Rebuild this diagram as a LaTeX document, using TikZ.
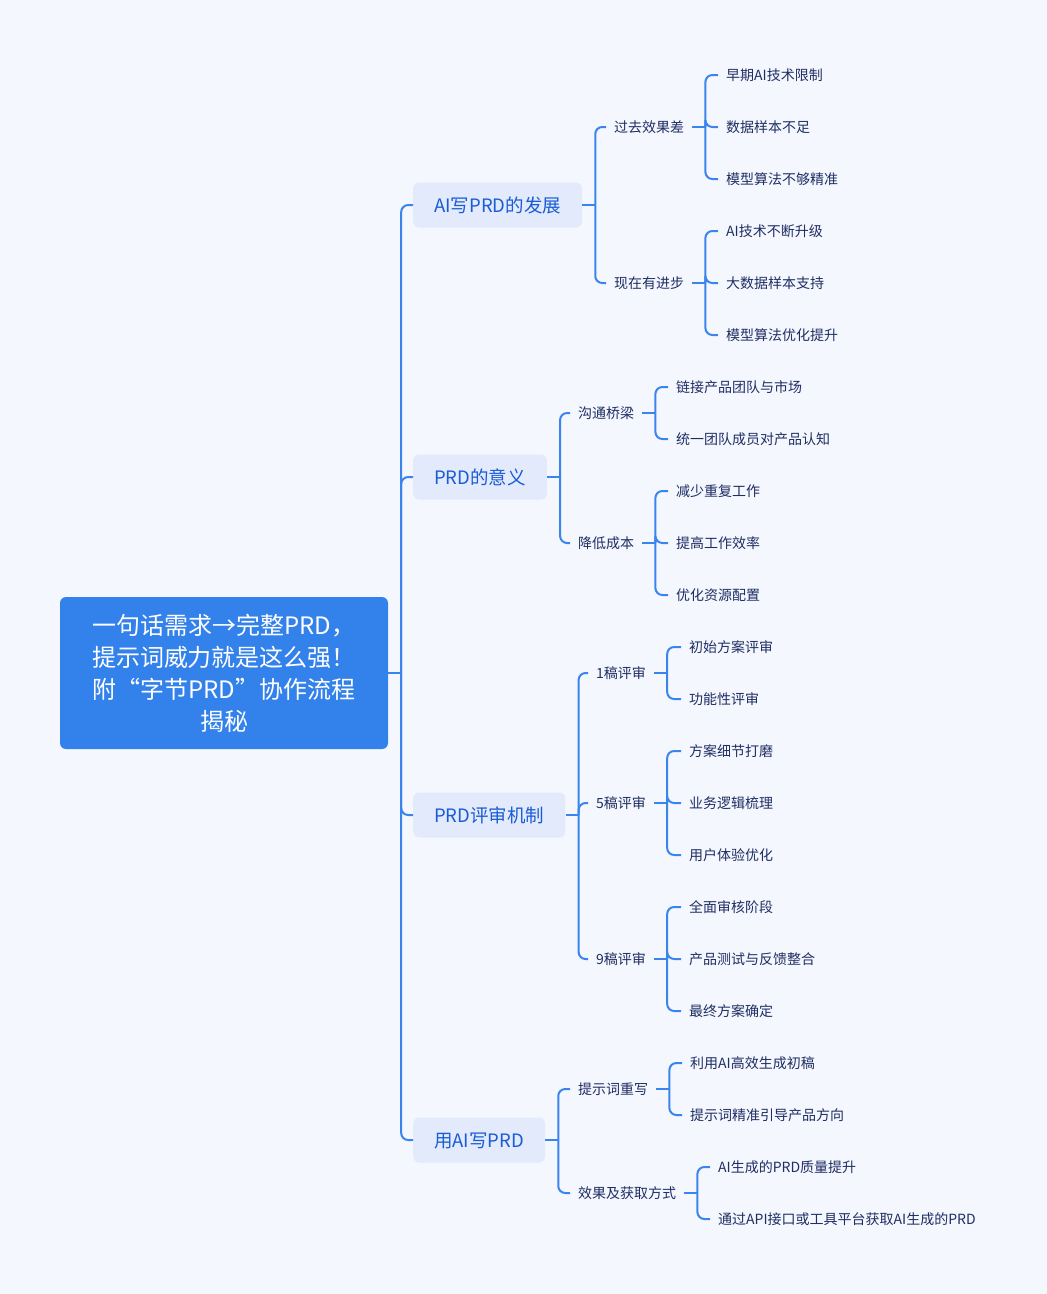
\documentclass[tikz,border=0pt]{standalone}
\usepackage{fontspec}
\setmainfont{Noto Sans CJK SC}
\usetikzlibrary{calc}
\definecolor{bg}{HTML}{F5F7FE}
\definecolor{rootc}{HTML}{3381EB}
\definecolor{boxc}{HTML}{E2EAFC}
\definecolor{linec}{HTML}{3A84EE}
\definecolor{btext}{HTML}{1A5CD6}
\definecolor{ltext}{HTML}{1F2E63}
\newcommand{\myfork}[2]{%
  \draw[conn] (#1.east) -- ++(13,0) coordinate (#1j);
  \foreach \c in {#2} {\draw[conn, rounded corners=7pt] (#1j) |- (\c.west);}
}
\begin{document}
\begin{tikzpicture}[x=1pt,y=-1pt,
  rootbox/.style={fill=rootc, rounded corners=6pt, text=white, minimum width=328pt, minimum height=152pt, align=center, font=\fontsize{24pt}{32pt}\selectfont, inner sep=0pt},
  branchbox/.style={fill=boxc, rounded corners=6pt, text=btext, minimum height=45pt, inner xsep=21pt, inner ysep=0pt, anchor=west, font=\fontsize{18.5pt}{22pt}\selectfont, text height=14pt, text depth=0pt},
  sublabel/.style={text=ltext, inner xsep=8pt, inner ysep=2pt, anchor=west, font=\fontsize{14pt}{17pt}\selectfont, text height=10.6pt, text depth=0pt},
  leaf/.style={sublabel},
  conn/.style={draw=linec, line width=2pt},
]
\fill[bg] (0,0) rectangle (1047,1294);
\useasboundingbox (0,0) rectangle (1047,1294);

\node[rootbox] (root) at (224,673) {一句话需求→完整PRD，\\提示词威力就是这么强！\\附“字节PRD”协作流程\\揭秘};

\node[branchbox] (b1) at (413,205) {AI写PRD的发展};
\node[branchbox] (b2) at (413,477) {PRD的意义};
\node[branchbox] (b3) at (413,815) {PRD评审机制};
\node[branchbox] (b4) at (413,1140) {用AI写PRD};

\node[sublabel] (s11) at (606,127) {过去效果差};
\node[sublabel] (s12) at (606,283) {现在有进步};
\node[sublabel] (s21) at (570,413) {沟通桥梁};
\node[sublabel] (s22) at (570,543) {降低成本};
\node[sublabel] (s31) at (588,673) {1稿评审};
\node[sublabel] (s32) at (588,803) {5稿评审};
\node[sublabel] (s33) at (588,959) {9稿评审};
\node[sublabel] (s41) at (570,1089) {提示词重写};
\node[sublabel] (s42) at (570,1193) {效果及获取方式};

\node[leaf] (l111) at (718,75) {早期AI技术限制};
\node[leaf] (l112) at (718,127) {数据样本不足};
\node[leaf] (l113) at (718,179) {模型算法不够精准};
\node[leaf] (l121) at (718,231) {AI技术不断升级};
\node[leaf] (l122) at (718,283) {大数据样本支持};
\node[leaf] (l123) at (718,335) {模型算法优化提升};

\node[leaf] (l211) at (668,387) {链接产品团队与市场};
\node[leaf] (l212) at (668,439) {统一团队成员对产品认知};
\node[leaf] (l221) at (668,491) {减少重复工作};
\node[leaf] (l222) at (668,543) {提高工作效率};
\node[leaf] (l223) at (668,595) {优化资源配置};

\node[leaf] (l311) at (681,647) {初始方案评审};
\node[leaf] (l312) at (681,699) {功能性评审};
\node[leaf] (l321) at (681,751) {方案细节打磨};
\node[leaf] (l322) at (681,803) {业务逻辑梳理};
\node[leaf] (l323) at (681,855) {用户体验优化};
\node[leaf] (l331) at (681,907) {全面审核阶段};
\node[leaf] (l332) at (681,959) {产品测试与反馈整合};
\node[leaf] (l333) at (681,1011) {最终方案确定};

\node[leaf] (l411) at (682,1063) {利用AI高效生成初稿};
\node[leaf] (l412) at (682,1115) {提示词精准引导产品方向};
\node[leaf] (l421) at (710,1167) {AI生成的PRD质量提升};
\node[leaf] (l422) at (710,1219) {通过API接口或工具平台获取AI生成的PRD};

\myfork{root}{b1,b2,b3,b4}
\myfork{b1}{s11,s12}
\myfork{b2}{s21,s22}
\myfork{b3}{s31,s32,s33}
\myfork{b4}{s41,s42}
\myfork{s11}{l111,l112,l113}
\myfork{s12}{l121,l122,l123}
\myfork{s21}{l211,l212}
\myfork{s22}{l221,l222,l223}
\myfork{s31}{l311,l312}
\myfork{s32}{l321,l322,l323}
\myfork{s33}{l331,l332,l333}
\myfork{s41}{l411,l412}
\myfork{s42}{l421,l422}
\end{tikzpicture}
\end{document}
